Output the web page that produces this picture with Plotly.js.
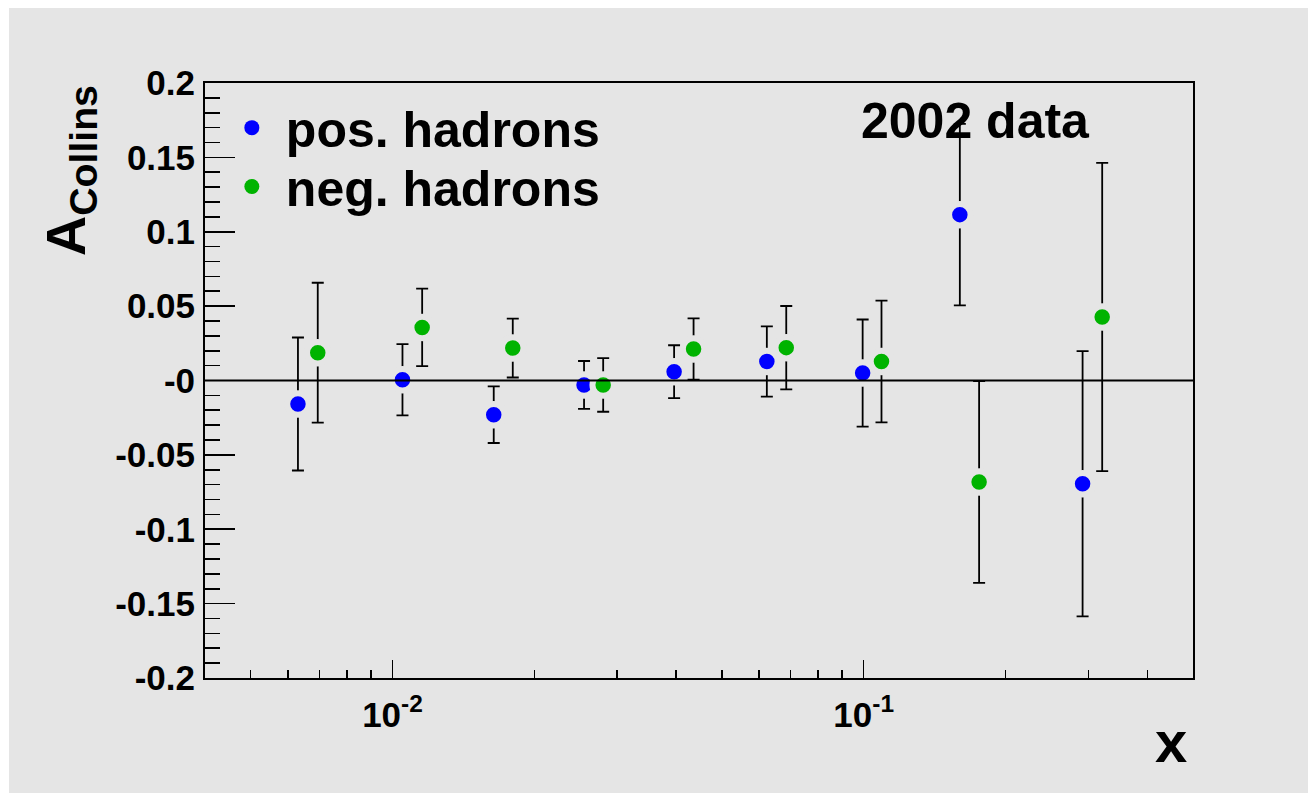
<!DOCTYPE html>
<html>
<head>
<meta charset="utf-8">
<script src="https://cdn.plot.ly/plotly-3.0.1.min.js"></script>
<style>
  html, body { margin: 0; padding: 0; background: #ffffff; }
  #chart { position: absolute; left: 9px; top: 8px; width: 1299px; height: 785px; }
</style>
</head>
<body>
<div id="chart"></div>
<script>
// ---- data ----
const xPos = [0.0063, 0.0105, 0.0164, 0.0255, 0.0396, 0.0623, 0.0995, 0.160, 0.2915];
const aPos = [-0.0158, 0.0005, -0.0230, -0.0030, 0.0059, 0.0128, 0.0050, 0.1115, -0.0694];
const ePos = [0.0447, 0.0240, 0.0190, 0.0161, 0.0178, 0.0236, 0.0360, 0.0610, 0.0892];

const xNeg = [0.00694, 0.01156, 0.0180, 0.0280, 0.04355, 0.0685, 0.1091, 0.1758, 0.3208];
const aNeg = [0.0187, 0.0357, 0.0218, -0.0030, 0.0212, 0.0221, 0.0128, -0.0682, 0.0427];
const eNeg = [0.0470, 0.0261, 0.0198, 0.0180, 0.0206, 0.0280, 0.0409, 0.0678, 0.1036];

const seriesNames = ["pos. hadrons", "neg. hadrons"];
const yTickVals = [-0.2, -0.15, -0.1, -0.05, 0, 0.05, 0.1, 0.15, 0.2];
const yTickText = ["-0.2", "-0.15", "-0.1", "-0.05", "-0", "0.05", "0.1", "0.15", "0.2"];
const yMinorVals = [];
for (let i = -20; i <= 20; i++) yMinorVals.push(i / 100);
const xTickVals = [0.01, 0.1];
const xTickText = ["10<sup>-2</sup>", "10<sup>-1</sup>"];
const xMinorVals = [0.005, 0.006, 0.007, 0.008, 0.009, 0.02, 0.03, 0.04, 0.05, 0.06, 0.07, 0.08, 0.09, 0.2, 0.3, 0.4];
const labelText = "2002 data";
const yTitle = "A<sub>Collins</sub>";
const xTitle = "x";

// ---- styling ----
const BG = "#e5e5e5";
const BLUE = "#0000ff";
const GREEN = "#00b300";
const FONT = "Liberation Sans, Arial, Helvetica, sans-serif";

function dataTrace(x, y, e, color) {
  return {
    type: "scatter", mode: "markers", x: x, y: y, showlegend: false,
    error_y: { type: "data", array: e, visible: true, color: "#000", thickness: 1.8, width: 6 },
    marker: { color: color, size: 21.5, line: { color: BG, width: 6 } },
    hoverinfo: "x+y"
  };
}
function legendTrace(name, color, legendId) {
  return {
    type: "scatter", mode: "markers", x: [null], y: [null], name: name,
    legend: legendId, showlegend: true,
    marker: { color: color, size: 15 }
  };
}

const traces = [
  dataTrace(xPos, aPos, ePos, BLUE),
  dataTrace(xNeg, aNeg, eNeg, GREEN),
  legendTrace(seriesNames[0], BLUE, "legend"),
  legendTrace(seriesNames[1], GREEN, "legend2")
];

const legendCommon = {
  bgcolor: "rgba(0,0,0,0)", borderwidth: 0,
  font: { family: FONT, size: 50, color: "#000", weight: "bold" },
  xanchor: "left", yanchor: "middle", itemwidth: 58
};

const layout = {
  width: 1299, height: 785,
  paper_bgcolor: BG, plot_bgcolor: BG,
  margin: { l: 196, r: 115, t: 75, b: 115 },
  font: { family: FONT, color: "#000", weight: "bold" },
  xaxis: {
    type: "log",
    range: [Math.log10(0.004), Math.log10(0.5)],
    tickmode: "array", tickvals: xTickVals, ticktext: xTickText,
    ticks: "inside", ticklen: 18, tickwidth: 1.6, tickcolor: "#000",
    minor: { tickvals: xMinorVals, ticks: "inside", ticklen: 8, tickwidth: 1.6, tickcolor: "#000" },
    tickfont: { family: FONT, size: 35, color: "#000", weight: "bold" },
    showline: true, linecolor: "#000", linewidth: 2, mirror: true,
    showgrid: false, zeroline: false, ticklabelstandoff: 5
  },
  yaxis: {
    range: [-0.2, 0.2],
    tickmode: "array", tickvals: yTickVals, ticktext: yTickText,
    ticks: "inside", ticklen: 30, tickwidth: 1.6, tickcolor: "#000",
    minor: { tickvals: yMinorVals, ticks: "inside", ticklen: 15, tickwidth: 1.6, tickcolor: "#000" },
    tickfont: { family: FONT, size: 35, color: "#000", weight: "bold" },
    showline: true, linecolor: "#000", linewidth: 2, mirror: true,
    showgrid: false, zeroline: false, ticklabelstandoff: 1
  },
  legend: Object.assign({}, legendCommon, { x: 0.013, y: 0.925 }),
  legend2: Object.assign({}, legendCommon, { x: 0.013, y: 0.826 }),
  shapes: [
    { type: "line", xref: "paper", x0: 0, x1: 1, yref: "y", y0: 0, y1: 0,
      line: { color: "#000", width: 1.8 }, layer: "above" }
  ],
  annotations: [
    { text: labelText, xref: "paper", yref: "paper", x: 0.898, y: 0.936,
      xanchor: "right", yanchor: "middle", showarrow: false,
      font: { family: FONT, size: 50, color: "#000", weight: "bold" } },
    { text: yTitle, xref: "paper", yref: "paper", x: -0.099, y: 1.0,
      xanchor: "right", yanchor: "top", textangle: -90, showarrow: false,
      font: { family: FONT, size: 56, color: "#000", weight: "bold" } },
    { text: xTitle, xref: "paper", yref: "paper", x: 0.996, y: -0.106,
      xanchor: "right", yanchor: "middle", showarrow: false,
      font: { family: FONT, size: 58, color: "#000", weight: "bold" } }
  ]
};

Plotly.newPlot("chart", traces, layout, { displayModeBar: false, staticPlot: true });
</script>
</body>
</html>
